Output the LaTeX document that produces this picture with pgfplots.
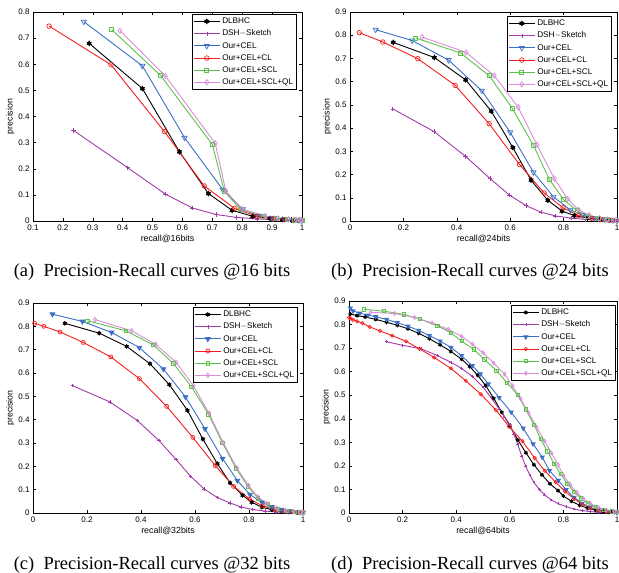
\documentclass[border=0pt]{standalone}
\usepackage{fontspec}
\setmainfont{Liberation Sans}
\newfontfamily\capfont{Liberation Serif}
\usepackage{pgfplots}
\pgfplotsset{compat=1.18}

\definecolor{cDSH}{HTML}{A23BAA}
\definecolor{cCEL}{HTML}{3A6FC4}
\definecolor{cCL}{HTML}{F51E1E}
\definecolor{cSCL}{HTML}{5CC24A}
\definecolor{cQL}{HTML}{D98CD9}

% six-pointed filled star like the MATLAB hexagram
\pgfdeclareplotmark{hexstar}{%
  \pgfpathmoveto{\pgfqpointpolar{90}{\pgfplotmarksize}}%
  \pgfpathlineto{\pgfqpointpolar{210}{\pgfplotmarksize}}%
  \pgfpathlineto{\pgfqpointpolar{330}{\pgfplotmarksize}}%
  \pgfpathclose
  \pgfpathmoveto{\pgfqpointpolar{270}{\pgfplotmarksize}}%
  \pgfpathlineto{\pgfqpointpolar{30}{\pgfplotmarksize}}%
  \pgfpathlineto{\pgfqpointpolar{150}{\pgfplotmarksize}}%
  \pgfpathclose
  \pgfusepathqfillstroke}

\pgfplotsset{
  pr/.style={scale only axis,anchor=south west,clip=false,
    axis line style={line width=0.5pt},tick style={line width=0.4pt,black},
    tick align=inside,major tick length=3pt,
    tick label style={font=\fontsize{8}{9}\selectfont},
    label style={font=\fontsize{8.8}{10}\selectfont},
    xlabel style={yshift=2pt},ylabel style={yshift=-3pt},
    /pgf/number format/fixed,/pgf/number format/precision=1,
    /pgf/number format/assume math mode=true,
    ylabel={precision},
    legend cell align=left,
    legend style={font=\fontsize{8.2}{9.5}\selectfont,at={(1,1)},anchor=north east,
      draw=black,line width=0.7pt,inner xsep=1.5pt,inner ysep=1.5pt,row sep=0.9pt},
    legend image code/.code={\draw[mark repeat=2,mark phase=2,##1]
      plot coordinates {(0pt,0pt)(13pt,0pt)(26pt,0pt)};}},
  sDL/.style={black,line width=0.9pt,mark=hexstar,mark size=2.6pt,mark options={fill=black,line width=0.4pt}},
  sDSH/.style={cDSH,line width=0.9pt,mark=+,mark size=2.2pt,mark options={line width=0.6pt}},
  sCEL/.style={cCEL,line width=0.9pt,mark=triangle,mark size=3pt,mark options={rotate=180,line width=0.7pt}},
  sCL/.style={cCL,line width=0.9pt,mark=o,mark size=2.3pt,mark options={line width=0.7pt}},
  sSCL/.style={cSCL,line width=0.9pt,mark=square,mark size=2pt,mark options={line width=0.7pt}},
  sQL/.style={cQL,line width=0.9pt,mark=diamond,mark size=2.7pt,mark options={line width=0.7pt}},
}

\begin{document}
\begin{tikzpicture}
\useasboundingbox (0,0) rectangle (619pt,-573pt);

% ---------- (a) 16 bits
\begin{axis}[pr,at={(33pt,-221pt)},width=269pt,height=209pt,
  xmin=0.1,xmax=1,ymin=0,ymax=0.8,xtick={0.1,0.2,...,1.0},ytick={0,0.1,...,0.8},
  xlabel={recall@16bits},legend style={xshift=-5pt,yshift=-2pt}]
\addplot[sDL] coordinates {(0.288,0.680)(0.466,0.507)(0.590,0.265)(0.687,0.105)(0.766,0.041)(0.835,0.018)(0.893,0.010)(0.935,0.006)(0.965,0.004)(0.990,0.003)(1,0.002)};
\addlegendentry{DLBHC}
\addplot[sDSH] coordinates {(0.235,0.347)(0.417,0.204)(0.543,0.103)(0.633,0.050)(0.712,0.025)(0.780,0.014)(0.850,0.008)(0.905,0.005)(0.950,0.003)(0.985,0.002)(1,0.001)};
\addlegendentry{DSH$-$Sketch}
\addplot[sCEL] coordinates {(0.270,0.763)(0.466,0.594)(0.607,0.319)(0.735,0.120)(0.802,0.045)(0.855,0.020)(0.900,0.011)(0.940,0.007)(0.970,0.004)(0.990,0.003)(1,0.002)};
\addlegendentry{Our+CEL}
\addplot[sCL] coordinates {(0.154,0.746)(0.361,0.598)(0.540,0.342)(0.673,0.134)(0.775,0.048)(0.850,0.018)(0.905,0.010)(0.945,0.006)(0.975,0.004)(0.995,0.003)(1,0.002)};
\addlegendentry{Our+CEL+CL}
\addplot[sSCL] coordinates {(0.363,0.733)(0.527,0.557)(0.700,0.293)(0.740,0.114)(0.795,0.044)(0.870,0.019)(0.915,0.010)(0.950,0.006)(0.975,0.004)(0.995,0.003)(1,0.002)};
\addlegendentry{Our+CEL+SCL}
\addplot[sQL] coordinates {(0.391,0.728)(0.543,0.555)(0.710,0.297)(0.745,0.115)(0.800,0.045)(0.877,0.019)(0.920,0.010)(0.955,0.006)(0.980,0.004)(0.995,0.003)(1,0.002)};
\addlegendentry{Our+CEL+SCL+QL}
\end{axis}

% ---------- (b) 24 bits
\begin{axis}[pr,at={(350pt,-221pt)},width=267pt,height=209pt,
  xmin=0,xmax=1,ymin=0,ymax=0.9,xtick={0,0.2,...,1.0},ytick={0,0.1,...,0.9},
  xlabel={recall@24bits},legend style={xshift=-5pt,yshift=-4pt}]
\addplot[sDL] coordinates {(0.162,0.769)(0.316,0.704)(0.433,0.608)(0.529,0.473)(0.610,0.316)(0.678,0.176)(0.741,0.089)(0.794,0.043)(0.841,0.023)(0.890,0.013)(0.935,0.007)(0.970,0.004)(1,0.002)};
\addlegendentry{DLBHC}
\addplot[sDSH] coordinates {(0.160,0.483)(0.315,0.385)(0.433,0.278)(0.524,0.183)(0.598,0.111)(0.660,0.066)(0.715,0.038)(0.770,0.022)(0.830,0.012)(0.880,0.007)(0.930,0.004)(0.970,0.002)(1,0.001)};
\addlegendentry{DSH$-$Sketch}
\addplot[sCEL] coordinates {(0.096,0.824)(0.233,0.777)(0.369,0.693)(0.494,0.561)(0.600,0.382)(0.687,0.210)(0.762,0.104)(0.825,0.048)(0.870,0.025)(0.915,0.012)(0.955,0.006)(0.985,0.003)(1,0.002)};
\addlegendentry{Our+CEL}
\addplot[sCL] coordinates {(0.035,0.811)(0.123,0.771)(0.254,0.699)(0.394,0.584)(0.521,0.419)(0.635,0.243)(0.727,0.121)(0.798,0.057)(0.856,0.023)(0.905,0.012)(0.945,0.006)(0.980,0.003)(1,0.002)};
\addlegendentry{Our+CEL+CL}
\addplot[sSCL] coordinates {(0.246,0.788)(0.415,0.723)(0.521,0.626)(0.607,0.487)(0.688,0.324)(0.746,0.180)(0.800,0.092)(0.850,0.045)(0.890,0.022)(0.930,0.012)(0.960,0.006)(0.985,0.003)(1,0.002)};
\addlegendentry{Our+CEL+SCL}
\addplot[sQL] coordinates {(0.270,0.792)(0.435,0.726)(0.540,0.626)(0.630,0.490)(0.700,0.328)(0.765,0.183)(0.815,0.095)(0.855,0.048)(0.895,0.025)(0.935,0.012)(0.965,0.006)(0.990,0.003)(1,0.002)};
\addlegendentry{Our+CEL+SCL+QL}
\end{axis}

% ---------- (c) 32 bits
\begin{axis}[pr,at={(33pt,-513pt)},width=270pt,height=210pt,
  xmin=0,xmax=1,ymin=0,ymax=0.9,xtick={0,0.2,...,1.0},ytick={0,0.1,...,0.9},
  xlabel={recall@32bits},legend style={xshift=-5pt,yshift=-4pt}]
\addplot[sDL,mark size=2.2pt] coordinates {(0.118,0.813)(0.245,0.771)(0.347,0.714)(0.433,0.640)(0.505,0.550)(0.572,0.440)(0.629,0.317)(0.683,0.211)(0.730,0.129)(0.776,0.076)(0.810,0.046)(0.848,0.025)(0.885,0.014)(0.920,0.008)(0.950,0.005)(0.980,0.003)(1,0.002)};
\addlegendentry{DLBHC}
\addplot[sDSH,mark size=1.8pt] coordinates {(0.146,0.546)(0.285,0.476)(0.387,0.396)(0.467,0.310)(0.530,0.229)(0.584,0.157)(0.634,0.103)(0.683,0.066)(0.730,0.043)(0.770,0.026)(0.814,0.015)(0.860,0.008)(0.900,0.005)(0.940,0.003)(0.970,0.002)(1,0.001)};
\addlegendentry{DSH$-$Sketch}
\addplot[sCEL,mark=triangle*,mark size=2.6pt,mark options={rotate=180,fill=cCEL}] coordinates {(0.072,0.852)(0.183,0.821)(0.291,0.774)(0.394,0.709)(0.483,0.617)(0.565,0.497)(0.637,0.361)(0.702,0.233)(0.757,0.139)(0.804,0.079)(0.848,0.046)(0.885,0.026)(0.920,0.014)(0.950,0.008)(0.975,0.005)(0.990,0.003)(1,0.002)};
\addlegendentry{Our+CEL}
\addplot[sCL,mark size=2pt] coordinates {(0.006,0.813)(0.040,0.800)(0.100,0.776)(0.186,0.731)(0.288,0.669)(0.394,0.576)(0.495,0.457)(0.592,0.324)(0.675,0.203)(0.743,0.114)(0.802,0.060)(0.850,0.031)(0.897,0.014)(0.930,0.008)(0.960,0.005)(0.985,0.003)(1,0.002)};
\addlegendentry{Our+CEL+CL}
\addplot[sSCL,mark size=1.8pt] coordinates {(0.202,0.824)(0.344,0.781)(0.446,0.720)(0.520,0.641)(0.587,0.541)(0.650,0.424)(0.702,0.300)(0.752,0.191)(0.796,0.114)(0.833,0.064)(0.870,0.036)(0.907,0.017)(0.940,0.009)(0.970,0.005)(0.990,0.003)(1,0.002)};
\addlegendentry{Our+CEL+SCL}
\addplot[sQL,mark size=2.3pt] coordinates {(0.229,0.829)(0.365,0.781)(0.454,0.723)(0.530,0.646)(0.594,0.546)(0.652,0.427)(0.705,0.300)(0.755,0.193)(0.798,0.117)(0.833,0.069)(0.866,0.040)(0.903,0.020)(0.935,0.010)(0.965,0.006)(0.990,0.003)(1,0.002)};
\addlegendentry{Our+CEL+SCL+QL}
\end{axis}

% ---------- (d) 64 bits
\begin{axis}[pr,at={(349pt,-513pt)},width=268pt,height=212pt,
  xmin=0,xmax=1,ymin=0,ymax=0.9,xtick={0,0.2,...,1.0},ytick={0,0.1,...,0.9},
  xlabel={recall@64bits},legend style={xshift=-1pt,yshift=-4pt}]
\addplot[sDL,mark size=1.9pt] coordinates {(0.005,0.845)(0.030,0.838)(0.060,0.832)(0.100,0.822)(0.140,0.810)(0.180,0.797)(0.220,0.782)(0.260,0.763)(0.300,0.740)(0.340,0.714)(0.380,0.686)(0.420,0.653)(0.450,0.622)(0.480,0.585)(0.510,0.541)(0.540,0.487)(0.570,0.428)(0.600,0.370)(0.630,0.310)(0.660,0.256)(0.690,0.205)(0.720,0.162)(0.750,0.124)(0.780,0.095)(0.800,0.072)(0.830,0.050)(0.860,0.033)(0.890,0.020)(0.920,0.012)(0.950,0.007)(0.980,0.004)(1,0.002)};
\addlegendentry{DLBHC}
\addplot[sDSH,mark size=1.4pt] coordinates {(0.140,0.727)(0.200,0.712)(0.270,0.697)(0.330,0.668)(0.380,0.640)(0.420,0.614)(0.460,0.580)(0.500,0.535)(0.530,0.490)(0.560,0.442)(0.580,0.408)(0.600,0.375)(0.615,0.335)(0.630,0.290)(0.645,0.240)(0.660,0.197)(0.675,0.160)(0.690,0.130)(0.710,0.100)(0.730,0.077)(0.755,0.055)(0.780,0.040)(0.810,0.027)(0.840,0.017)(0.870,0.010)(0.900,0.006)(0.930,0.003)(0.960,0.002)(1,0.001)};
\addlegendentry{DSH$-$Sketch}
\addplot[sCEL,mark=triangle*,mark size=2.2pt,mark options={rotate=180,fill=cCEL}] coordinates {(0.005,0.870)(0.015,0.858)(0.040,0.848)(0.070,0.840)(0.100,0.833)(0.140,0.822)(0.180,0.808)(0.220,0.793)(0.260,0.775)(0.300,0.753)(0.340,0.730)(0.380,0.703)(0.420,0.668)(0.460,0.625)(0.490,0.590)(0.520,0.548)(0.560,0.490)(0.605,0.428)(0.650,0.360)(0.687,0.293)(0.721,0.237)(0.748,0.180)(0.781,0.138)(0.810,0.099)(0.840,0.066)(0.870,0.041)(0.900,0.024)(0.930,0.013)(0.960,0.007)(0.990,0.004)(1,0.002)};
\addlegendentry{Our+CEL}
\addplot[sCL,mark size=1.7pt] coordinates {(0,0.830)(0.005,0.826)(0.015,0.820)(0.030,0.814)(0.050,0.806)(0.077,0.790)(0.116,0.773)(0.161,0.753)(0.213,0.729)(0.263,0.697)(0.318,0.660)(0.380,0.614)(0.436,0.561)(0.492,0.504)(0.548,0.437)(0.597,0.367)(0.647,0.305)(0.693,0.233)(0.731,0.179)(0.771,0.131)(0.806,0.092)(0.840,0.060)(0.870,0.037)(0.900,0.020)(0.930,0.011)(0.960,0.006)(0.990,0.003)(1,0.002)};
\addlegendentry{Our+CEL+CL}
\addplot[sSCL,mark size=1.6pt] coordinates {(0.055,0.865)(0.130,0.857)(0.205,0.843)(0.265,0.823)(0.330,0.795)(0.380,0.765)(0.420,0.730)(0.465,0.695)(0.505,0.652)(0.550,0.605)(0.590,0.553)(0.630,0.500)(0.660,0.440)(0.690,0.375)(0.715,0.315)(0.740,0.262)(0.765,0.210)(0.790,0.165)(0.815,0.123)(0.840,0.090)(0.865,0.062)(0.890,0.041)(0.920,0.025)(0.950,0.014)(0.980,0.007)(1,0.004)};
\addlegendentry{Our+CEL+SCL}
\addplot[sQL,mark size=2pt] coordinates {(0.080,0.852)(0.170,0.847)(0.245,0.830)(0.310,0.807)(0.370,0.780)(0.420,0.750)(0.460,0.717)(0.500,0.680)(0.540,0.636)(0.580,0.590)(0.610,0.540)(0.640,0.485)(0.670,0.425)(0.700,0.365)(0.730,0.305)(0.755,0.255)(0.780,0.205)(0.800,0.160)(0.825,0.120)(0.850,0.088)(0.875,0.060)(0.900,0.040)(0.930,0.024)(0.960,0.013)(0.990,0.006)(1,0.004)};
\addlegendentry{Our+CEL+SCL+QL}
\end{axis}

% captions
\begin{scope}[every node/.style={anchor=base,inner sep=0pt,font=\capfont\fontsize{18.5}{21}\selectfont}]
\node at (152pt,-276pt) {(a)\ \ Precision-Recall curves @16 bits};
\node at (470pt,-276pt) {(b)\ \ Precision-Recall curves @24 bits};
\node at (152pt,-569pt) {(c)\ \ Precision-Recall curves @32 bits};
\node at (470pt,-569pt) {(d)\ \ Precision-Recall curves @64 bits};
\end{scope}
\end{tikzpicture}
\end{document}
